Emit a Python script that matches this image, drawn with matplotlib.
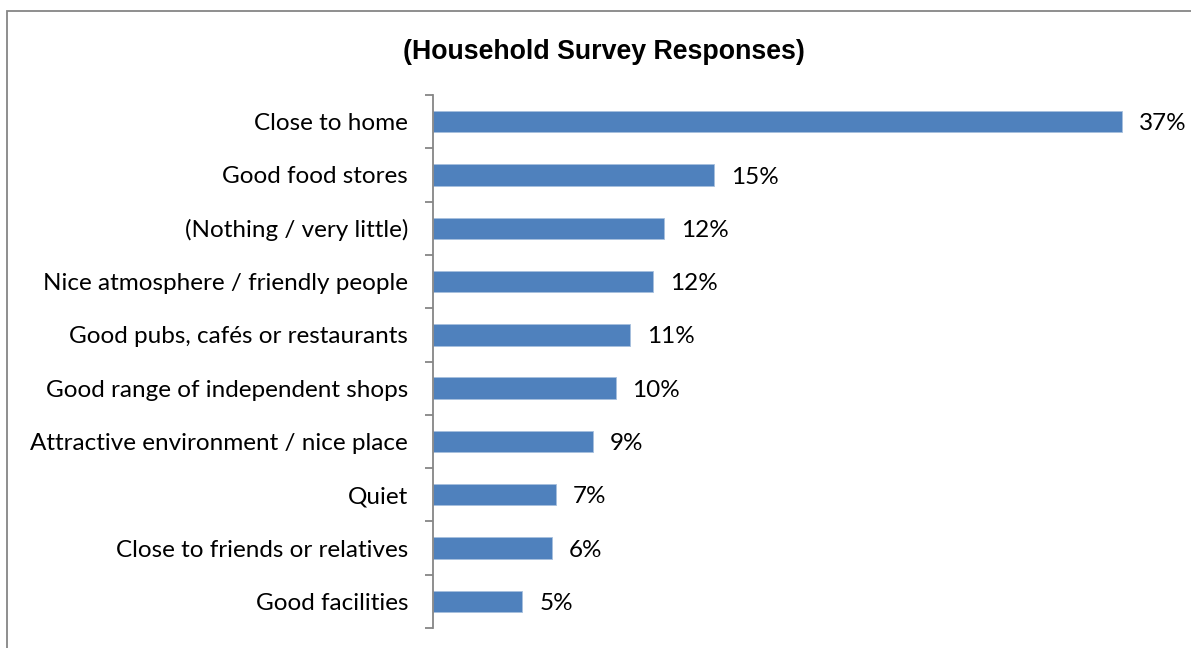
import matplotlib.pyplot as plt
from matplotlib.patches import Rectangle

# Household survey: what people like about the centre (share of responses, %)
categories = [
    'Close to home',
    'Good food stores',
    '(Nothing / very little)',
    'Nice atmosphere / friendly people',
    'Good pubs, cafés or restaurants',
    'Good range of independent shops',
    'Attractive environment / nice place',
    'Quiet',
    'Close to friends or relatives',
    'Good facilities',
]
shares = [37.0, 15.1, 12.4, 11.8, 10.6, 9.8, 8.6, 6.6, 6.4, 4.8]

title = '(Household Survey Responses)'
bar_color = '#4F81BD'
axis_color = '#868686'

fig = plt.figure(figsize=(11.91, 6.48), dpi=100)
fig.patch.set_facecolor('white')

# outer chart frame (runs off the right and bottom edges)
fig.patches.append(Rectangle((7 / 1191, -0.05), 1.2, 1 - 11 / 648 + 0.05,
                             transform=fig.transFigure, fill=False,
                             edgecolor=axis_color, linewidth=1.3))

ax = fig.add_axes([433 / 1191, 1 - 628 / 648, (1180 - 433) / 1191, (628 - 95) / 648])

n = len(categories)
ypos = list(range(n))
ax.barh(ypos, shares, height=0.4, color=bar_color, edgecolor='#A7C0DE', linewidth=0.6)
ax.set_ylim(n - 0.5, -0.5)
ax.set_xlim(0, 40.1)

for y, v in zip(ypos, shares):
    ax.text(v + 0.9, y + 0.04, f'{v:.0f}%', va='center', ha='left',
            fontsize=17.5, family='Lato', color='black')

ax.set_yticks(ypos)
ax.set_yticklabels(categories, fontsize=17.5, family='Lato')
ax.set_yticks([i - 0.5 for i in range(n + 1)], minor=True)
ax.tick_params(axis='y', which='major', length=0, pad=18)
ax.tick_params(axis='y', which='minor', length=6, width=1.3, color=axis_color)
ax.set_xticks([])

for side in ['top', 'right', 'bottom']:
    ax.spines[side].set_visible(False)
ax.spines['left'].set_color(axis_color)
ax.spines['left'].set_linewidth(1.3)

fig.text(604 / 1191, 1 - 52 / 648, title, ha='center', va='center',
         fontsize=19.3, fontweight='bold', family='Liberation Sans')

fig.savefig('out.png', dpi=100)
